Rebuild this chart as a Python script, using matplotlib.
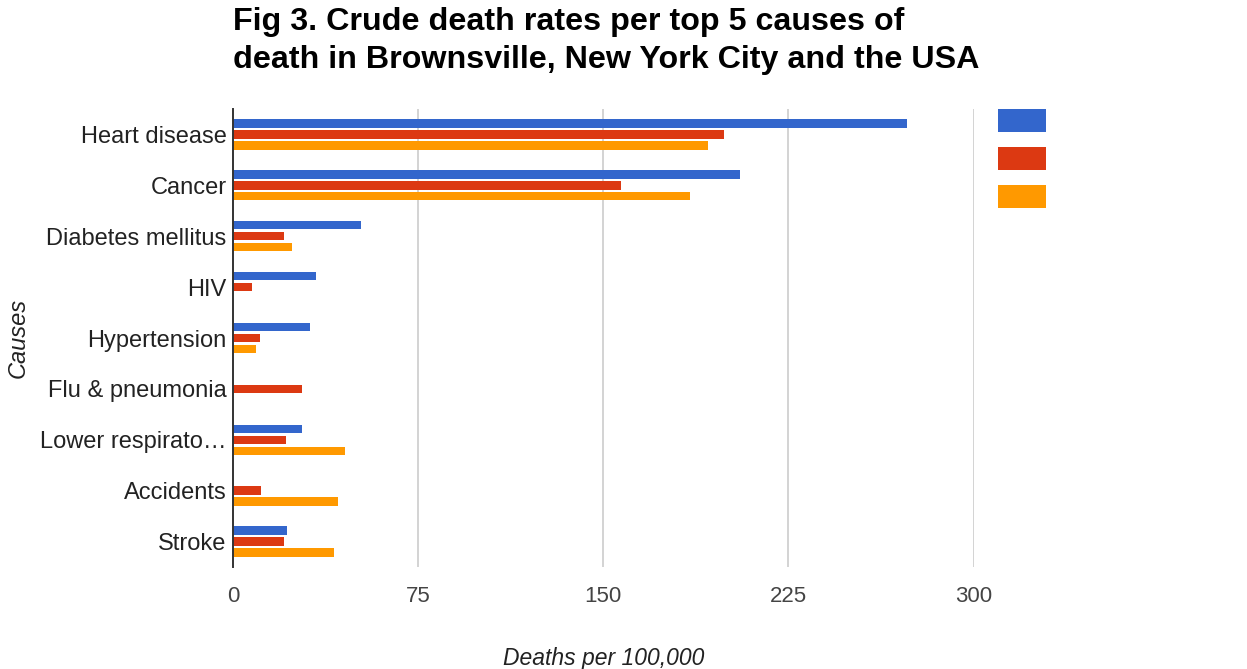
import matplotlib
matplotlib.use("Agg")
import matplotlib.pyplot as plt
import numpy as np
from matplotlib.patches import Patch

# data (deaths per 100,000)
causes = ["Heart disease", "Cancer", "Diabetes mellitus", "HIV", "Hypertension",
          "Flu & pneumonia", "Lower respirato\u2026", "Accidents", "Stroke"]
series = ["Brownsville", "New York City", "USA"]
brownsville = [273, 205.5, 52, 33.5, 31, 0, 28, 0, 22]
nyc = [199, 157, 20.5, 7.5, 11, 28, 21.5, 11.5, 20.5]
usa = [192.5, 185, 24, 0, 9.3, 0, 45.5, 42.5, 41]
xticks = [0, 75, 150, 225, 300]

colors = ["#3366cc", "#dc3912", "#ff9900"]

plt.rcParams["font.family"] = ["Liberation Sans", "DejaVu Sans"]

W, H = 1247, 669
fig = plt.figure(figsize=(W / 100, H / 100), dpi=100)
ax = fig.add_axes([233 / W, 1 - 567 / H, (973.5 - 233) / W, (567 - 109) / H])

y = np.arange(len(causes))
bar_h = 0.165
step = 0.215
for i, (vals, col) in enumerate(zip([brownsville, nyc, usa], colors)):
    ax.barh(y + (i - 1) * step, vals, height=bar_h, color=col, label=series[i], zorder=3)

ax.set_ylim(len(causes) - 0.5, -0.5)
ax.set_xlim(0, 300)
ax.set_xticks(xticks)
ax.set_xticklabels([str(t) for t in xticks])
ax.set_yticks(y)
ax.set_yticklabels(causes)
ax.tick_params(axis="y", length=0, pad=4.5, labelsize=17, labelcolor="#222222")
ax.tick_params(axis="x", length=0, pad=13.5, labelsize=16, labelcolor="#444444")

for t in xticks[1:]:
    ax.axvline(t, color="#cccccc", lw=1.2, zorder=1)

for side in ["top", "right", "bottom"]:
    ax.spines[side].set_visible(False)
ax.spines["left"].set_color("#333333")
ax.spines["left"].set_linewidth(1.4)
ax.spines["left"].set_zorder(4)

ax.set_xlabel("Deaths per 100,000", fontsize=16.5, style="italic", color="#222222")
ax.xaxis.set_label_coords(0.5, -0.174)
ax.set_ylabel("Causes", fontsize=17, style="italic", color="#222222")
ax.yaxis.set_label_coords(-0.275, 0.5)

fig.text(233 / W, 1 - 7 / H,
         "Fig 3. Crude death rates per top 5 causes of\ndeath in Brownsville, New York City and the USA",
         ha="left", va="top", fontsize=23.2, fontweight="bold", color="#000000", linespacing=1.36)

# unlabeled colour swatches, as in the original
fs = 11
px = fs * 100 / 72
handles = [Patch(facecolor=c, edgecolor="none") for c in colors]
fig.legend(handles, ["", "", ""], loc="upper left",
           bbox_to_anchor=(998 / W, 1 - 109 / H), bbox_transform=fig.transFigure,
           frameon=False, fontsize=fs, handlelength=48 / px, handleheight=1.1 * 22 / 18 * 22 / px,
           labelspacing=(38 - 22) / px * 0.95, handletextpad=0, borderpad=0, borderaxespad=0)

fig.savefig("out.png", dpi=100, facecolor="white")
